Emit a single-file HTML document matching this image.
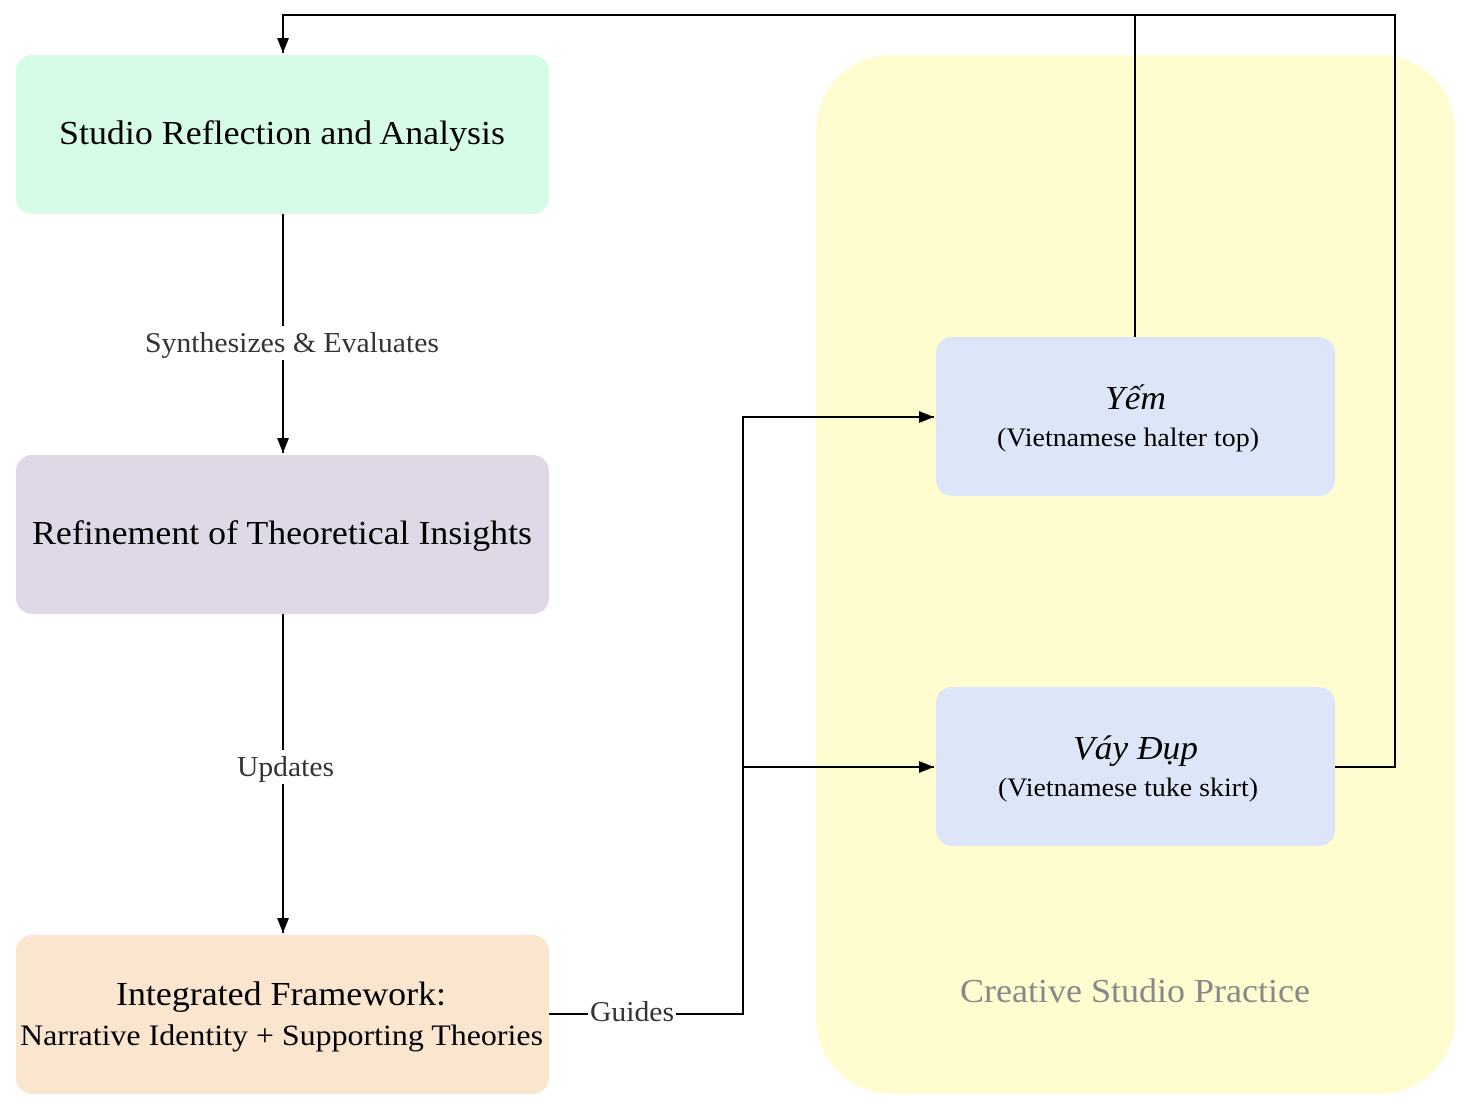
<!DOCTYPE html>
<html><head><meta charset="utf-8"><style>
html,body{margin:0;padding:0;background:#fff;width:1476px;height:1110px;overflow:hidden}
svg text{font-family:"Liberation Serif",serif}
</style></head><body>
<svg width="1476" height="1110" xmlns="http://www.w3.org/2000/svg">
<defs><marker id="b" markerWidth="16" markerHeight="16" refX="15" refY="6" orient="auto" markerUnits="userSpaceOnUse"><path d="M0,0 L15,6 L0,12 z" fill="#000"/></marker></defs>
<rect x="816" y="55" width="639" height="1039" rx="75" fill="#fffdd0"/>
<text x="960" y="1002" font-size="34" fill="#888" textLength="350" lengthAdjust="spacingAndGlyphs">Creative Studio Practice</text>
<rect x="16" y="55" width="533" height="159" rx="16" fill="#d6fbe7"/>
<rect x="16" y="455" width="533" height="159" rx="16" fill="#dfd8e7"/>
<rect x="16" y="935" width="533" height="159" rx="16" fill="#fae6cf"/>
<rect x="936" y="337" width="399" height="159" rx="16" fill="#dce6f8"/>
<rect x="936" y="687" width="399" height="159" rx="16" fill="#dce6f8"/>
<g stroke="#000" stroke-width="2" fill="none">
<path d="M283,214 V453" marker-end="url(#b)"/>
<path d="M283,614 V933" marker-end="url(#b)"/>
<path d="M549,1014 H743 V417 H934" marker-end="url(#b)"/>
<path d="M743,767 H934" marker-end="url(#b)"/>
<path d="M1135,337 V15 H283 V53" marker-end="url(#b)"/>
<path d="M1335,767 H1395 V15 H1135"/>
</g>
<rect x="142" y="326" width="300" height="34" fill="#fff"/>
<text x="145" y="352" font-size="28" fill="#333" textLength="294" lengthAdjust="spacingAndGlyphs">Synthesizes &amp; Evaluates</text>
<rect x="234" y="750" width="103" height="34" fill="#fff"/>
<text x="237" y="776" font-size="28" fill="#333" textLength="97" lengthAdjust="spacingAndGlyphs">Updates</text>
<rect x="588" y="997" width="88" height="34" fill="#fff"/>
<text x="590" y="1021" font-size="28" fill="#333" textLength="84" lengthAdjust="spacingAndGlyphs">Guides</text>
<text x="59" y="144" font-size="34" textLength="446" lengthAdjust="spacingAndGlyphs">Studio Reflection and Analysis</text>
<text x="32" y="544" font-size="34" textLength="500" lengthAdjust="spacingAndGlyphs">Refinement of Theoretical Insights</text>
<text x="116" y="1005" font-size="34" textLength="330" lengthAdjust="spacingAndGlyphs">Integrated Framework:</text>
<text x="20" y="1045" font-size="30" textLength="523" lengthAdjust="spacingAndGlyphs">Narrative Identity + Supporting Theories</text>
<text x="1105" y="409" font-size="34" font-style="italic" textLength="61" lengthAdjust="spacingAndGlyphs">Yếm</text>
<text x="997" y="446" font-size="26" textLength="262" lengthAdjust="spacingAndGlyphs">(Vietnamese halter top)</text>
<text x="1073" y="759" font-size="34" font-style="italic" textLength="125" lengthAdjust="spacingAndGlyphs">Váy Đụp</text>
<text x="998" y="796" font-size="26" textLength="260" lengthAdjust="spacingAndGlyphs">(Vietnamese tuke skirt)</text>
</svg>
</body></html>
